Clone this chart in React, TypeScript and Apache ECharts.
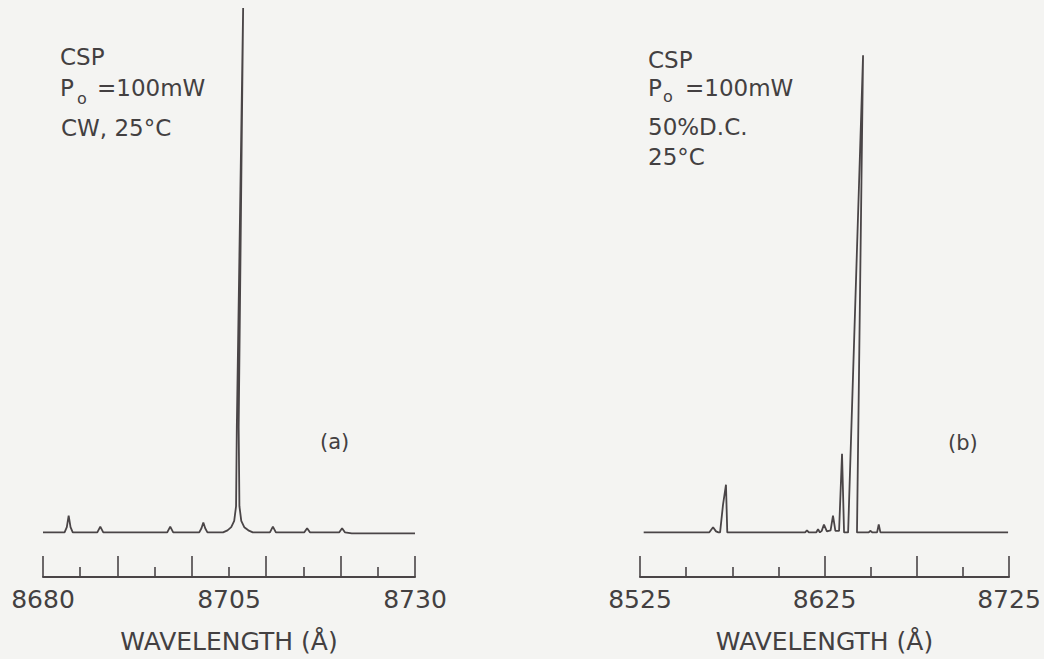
import React, { useEffect, useRef } from "react";
import * as echarts from "echarts";

// Panel (a): CW spectrum, [wavelength Å, relative intensity]
const spectrumA: [number, number][] = [
  [8680.0, 0], [8682.9, 0], [8683.2, 1.0], [8683.45, 3.2], [8683.7, 1.0], [8684.0, 0],
  [8687.3, 0], [8687.7, 1.1], [8688.1, 0],
  [8696.7, 0], [8697.1, 1.1], [8697.5, 0],
  [8701.0, 0], [8701.3, 0.8], [8701.55, 1.9], [8701.8, 0.8], [8702.1, 0],
  [8704.2, 0], [8704.8, 0.4], [8705.3, 1.0], [8705.7, 2.2], [8705.95, 5], [8706.05, 20],
  [8706.9, 100],
  [8706.3, 20], [8706.4, 5], [8706.65, 2.2], [8707.05, 1.0], [8707.6, 0.4], [8708.2, 0],
  [8710.5, 0], [8710.9, 1.1], [8711.3, 0],
  [8715.1, 0], [8715.5, 0.8], [8715.9, 0],
  [8719.8, 0], [8720.2, 0.8], [8720.6, 0], [8721.5, -0.2], [8730.0, -0.2],
];

// Panel (b): 50% duty cycle spectrum
const spectrumB: [number, number][] = [
  [8527.0, 0], [8562.5, 0], [8564.6, 1.0], [8566.2, 0.2], [8567.5, 0],
  [8568.4, 0], [8570.0, 5.3], [8571.6, 9.1], [8572.3, 0],
  [8614.5, 0], [8615.5, 0.4], [8616.5, 0],
  [8620.5, 0], [8621.5, 0.6], [8622.5, 0], [8623.5, 0.3], [8624.7, 1.5], [8626.3, 0.2],
  [8628.3, 0.4], [8629.6, 3.2], [8630.9, 0.3], [8632.9, 0.3], [8634.5, 15], [8635.6, 0],
  [8637.8, 0], [8645.9, 91], [8642.6, 0],
  [8649.0, 0], [8649.8, 0.3], [8651.0, 0],
  [8653.5, 0], [8654.4, 1.5], [8655.3, 0], [8724.5, 0],
];

const tallTicksA = [8680, 8690, 8700, 8710, 8720, 8730];
const shortTicksA = [8685, 8695, 8705, 8715, 8725];
const labelsA = [8680, 8705, 8730];

const tallTicksB = [8525, 8625, 8675, 8725];
const shortTicksB = [8550, 8575, 8600, 8650, 8700];
const labelsB = [8525, 8625, 8725];

const INK = "#4a4547";
const TEXT = "#434041";
const FONT = "DejaVu Sans";

export default function App() {
  const ref = useRef<HTMLDivElement>(null);

  useEffect(() => {
    if (!ref.current) return;
    const chart = echarts.init(ref.current, undefined, { renderer: "svg" });

    const baseX = (grid: number, min: number, max: number) => ({
      type: "value" as const,
      gridIndex: grid,
      min,
      max,
      position: "bottom" as const,
      splitLine: { show: false },
    });

    const mainX = (grid: number, min: number, max: number, shortT: number[], labels: number[]) => ({
      ...baseX(grid, min, max),
      axisLine: { show: true, onZero: false, lineStyle: { color: INK, width: 2 } },
      axisTick: { show: true, inside: true, length: 10, customValues: shortT, lineStyle: { color: INK, width: 1.6 } },
      axisLabel: {
        show: true,
        customValues: labels,
        formatter: (v: number) => String(v),
        fontSize: 25,
        fontFamily: FONT,
        color: TEXT,
        margin: 10,
      },
      name: "WAVELENGTH (Å)",
      nameLocation: "middle" as const,
      nameGap: 52,
      nameTextStyle: { fontSize: 25, fontFamily: FONT, color: TEXT },
    });

    const tallX = (grid: number, min: number, max: number, tallT: number[]) => ({
      ...baseX(grid, min, max),
      axisLine: { show: false, onZero: false },
      axisTick: { show: true, inside: true, length: 21, customValues: tallT, lineStyle: { color: INK, width: 1.6 } },
      axisLabel: { show: false },
    });

    const txt = (x: number, y: number, text: string, size = 23) => ({
      type: "text" as const,
      x,
      y,
      style: { text, fontSize: size, fontFamily: FONT, fill: TEXT, align: "left", verticalAlign: "middle" },
    });

    chart.setOption({
      animation: false,
      backgroundColor: "#f4f4f2",
      grid: [
        { left: 43, right: 629, top: 8, bottom: 79 },
        { left: 640, right: 35, top: 8, bottom: 79 },
      ],
      xAxis: [
        mainX(0, 8680, 8730, shortTicksA, labelsA),
        tallX(0, 8680, 8730, tallTicksA),
        mainX(1, 8525, 8725, shortTicksB, labelsB),
        tallX(1, 8525, 8725, tallTicksB),
      ],
      yAxis: [
        { type: "value", gridIndex: 0, min: -8.5, max: 100, show: false },
        { type: "value", gridIndex: 1, min: -8.5, max: 100, show: false },
      ],
      series: [
        {
          type: "line",
          xAxisIndex: 0,
          yAxisIndex: 0,
          data: spectrumA,
          showSymbol: false,
          lineStyle: { color: INK, width: 1.8 },
        },
        {
          type: "line",
          xAxisIndex: 2,
          yAxisIndex: 1,
          data: spectrumB,
          showSymbol: false,
          lineStyle: { color: INK, width: 1.8 },
        },
      ],
      graphic: [
        txt(60, 57, "CSP"),
        txt(60, 88, "P"),
        txt(77, 98, "o", 16),
        txt(97, 88, "=100mW"),
        txt(61, 128, "CW, 25°C"),
        txt(320, 442, "(a)", 21),
        txt(648, 60, "CSP"),
        txt(648, 88, "P"),
        txt(663, 96, "o", 16),
        txt(685, 88, "=100mW"),
        txt(648, 127, "50%D.C."),
        txt(648, 157, "25°C"),
        txt(948, 443, "(b)", 21),
      ],
    });

    return () => chart.dispose();
  }, []);

  return (
    <div
      ref={ref}
      style={{ position: "absolute", left: 0, top: 0, width: 1044, height: 659 }}
    />
  );
}
